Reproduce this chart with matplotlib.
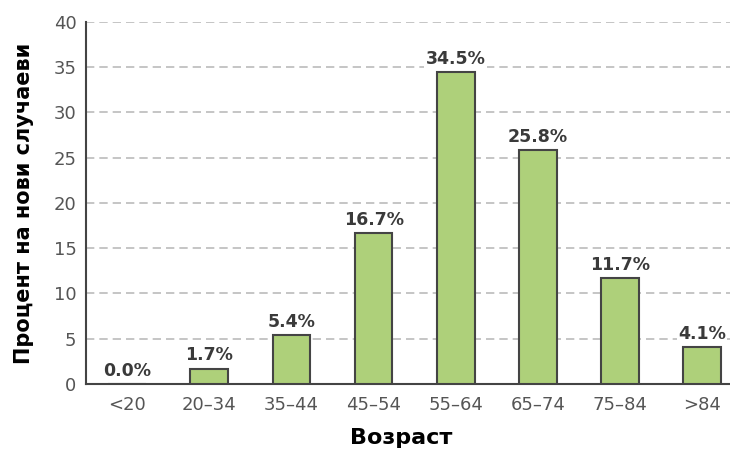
import matplotlib
matplotlib.use("Agg")
import matplotlib.pyplot as plt

categories = ["<20", "20–34", "35–44", "45–54", "55–64", "65–74", "75–84", ">84"]
values = [0.0, 1.7, 5.4, 16.7, 34.5, 25.8, 11.7, 4.1]
yticks = [0, 5, 10, 15, 20, 25, 30, 35, 40]

fig = plt.figure(figsize=(7.30, 4.49), dpi=100)
ax = fig.add_axes([0.118, 0.145, 0.882, 0.806])

x = list(range(len(categories)))
ax.bar(x, values, width=0.46, color="#aed07a", edgecolor="#444444", linewidth=1.5, zorder=3)

for xi, v in zip(x, values):
    ax.text(xi, v + 0.45, f"{v:.1f}%", ha="center", va="bottom",
            fontsize=12.5, fontweight="bold", color="#3a3a3a", zorder=4,
            bbox=dict(facecolor="white", edgecolor="none", pad=1.0))

ax.set_xlim(-0.5, 7.34)
ax.set_ylim(0, 40)
ax.set_yticks(yticks)
ax.set_xticks(x)
ax.set_xticklabels(categories)
ax.tick_params(axis="both", length=0, labelsize=13, labelcolor="#555555")
ax.tick_params(axis="x", pad=9)
ax.tick_params(axis="y", pad=7)

ax.yaxis.grid(True, linestyle=(0, (5, 3)), color="#bbbbbb", linewidth=1.2, zorder=0)
ax.set_axisbelow(True)

for side in ("top", "right"):
    ax.spines[side].set_visible(False)
for side in ("left", "bottom"):
    ax.spines[side].set_color("#444444")
    ax.spines[side].set_linewidth(1.5)

ax.set_ylabel("Процент на нови случаеви", fontsize=15, fontweight="heavy",
              color="#000000", labelpad=14)
ax.set_xlabel("Возраст", fontsize=16, fontweight="heavy",
              color="#000000", labelpad=10)
ax.xaxis.label.set_x(0.49)

fig.savefig("out.png", dpi=100)
